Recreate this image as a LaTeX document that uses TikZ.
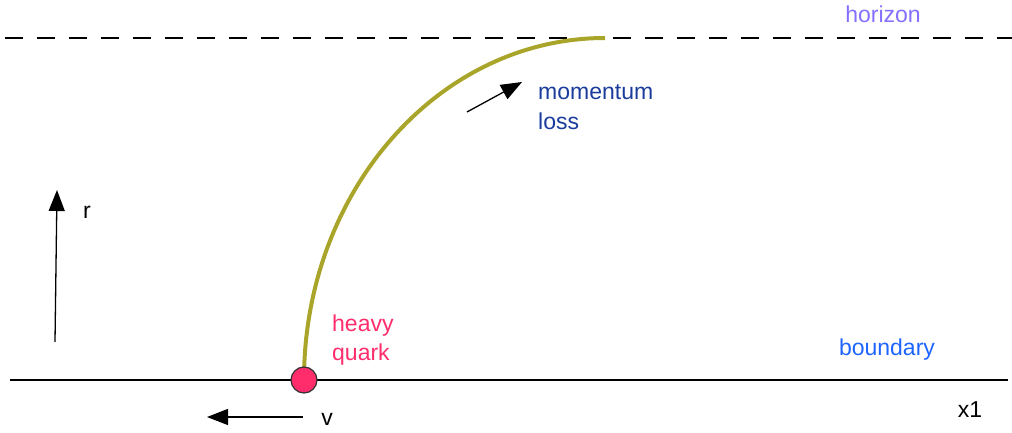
\documentclass[tikz,border=0pt]{standalone}
\usepackage{fontspec}
\setmainfont{Liberation Sans}
\usetikzlibrary{positioning,arrows.meta,calc}
\definecolor{Horizon}{HTML}{8470FF}
\definecolor{Boundary}{HTML}{1E64FF}
\definecolor{Loss}{HTML}{1B3C9C}
\definecolor{Quark}{HTML}{FF2D6B}
\definecolor{String}{HTML}{A9A52A}
\tikzset{
  lbl/.style={font=\fontsize{23}{29.5}\selectfont,inner sep=0pt},
  vec/.style={line width=1.3pt,-{Triangle[length=21pt,width=16pt]}}
}

\begin{document}
\begin{tikzpicture}[x=1pt,y=1pt]
        \useasboundingbox (0,0) rectangle (1012,432);
        % boundary and horizon
        \draw[line width=1.6pt] (10,52)--(1008,52);
        \draw[line width=1.6pt,dash pattern=on 18pt off 14pt] (5,394)--(1012,394);
        \node[lbl,Horizon] (horizon) at (883,418) {horizon};
        \node[lbl,Boundary] (boundary) at (887,82) {boundary};
        \node[lbl] (xone) at (970,22) {x1};
        % string falling into the horizon
        \draw[String,line width=4pt] (304,52) arc[start angle=180,end angle=90,x radius=301,y radius=342];
        \node[circle,draw=black!80,line width=1.2pt,fill=Quark,minimum size=26pt,inner sep=0pt] (quark) at (304,52) {};
        \node[lbl,Quark,align=left,anchor=west] (quarklbl) at (332,92) {heavy\\quark};
        \coordinate (ml0) at (467,320); \coordinate (ml1) at (522,350);
        \draw[vec] (ml0)--(ml1);
        \node[lbl,Loss,align=left,anchor=west] (loss) at (538,325) {momentum\\loss};
        % axes
        \coordinate (r0) at (55,90); \coordinate (r1) at (57,242);
        \draw[vec] (r0)--(r1);
        \node[lbl] (rlbl) at (87,220) {r};
        \coordinate (v0) at (303,15); \coordinate (v1) at (207,15);
        \draw[vec] (v0)--(v1);
        \node[lbl] (vlbl) at (327,13) {v};
      \end{tikzpicture}
\end{document}
